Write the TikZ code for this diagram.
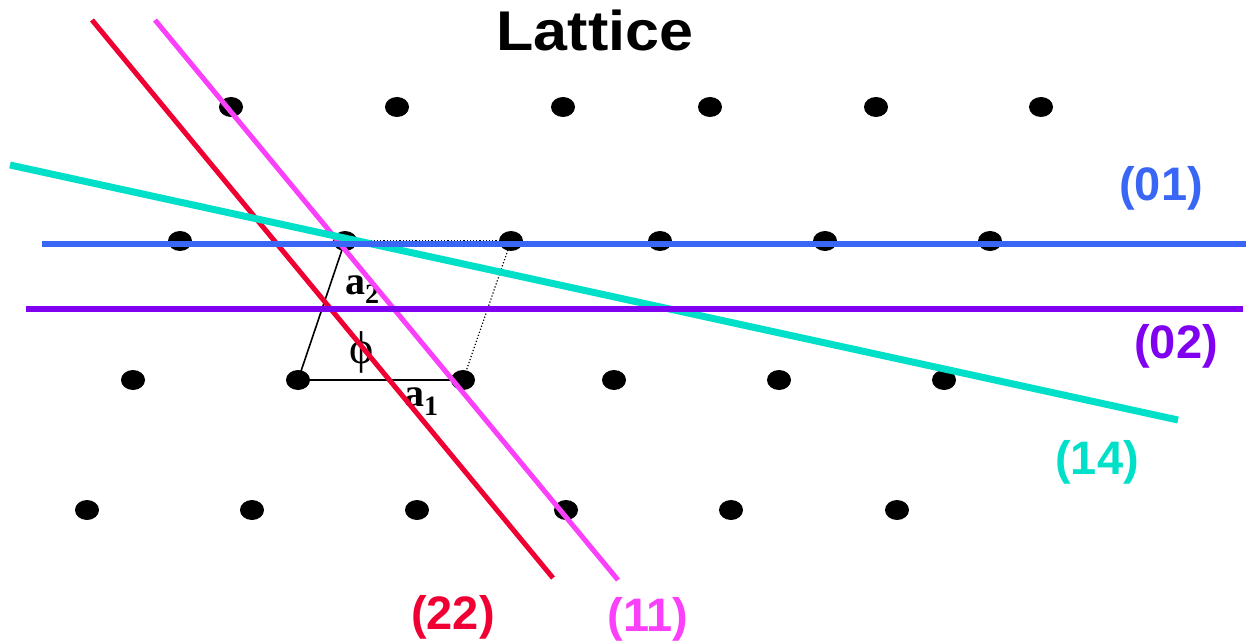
\documentclass[tikz,border=0pt]{standalone}
\usepackage{graphicx}
\usepackage{fontspec}
\setmainfont{Liberation Sans}
\newfontfamily\serifbf{Liberation Serif}
\usetikzlibrary{shapes.geometric,arrows.meta}
\definecolor{cred}{RGB}{240,0,50}
\definecolor{cmag}{RGB}{250,64,250}
\definecolor{ccyan}{RGB}{0,224,200}
\definecolor{cblue}{RGB}{58,102,245}
\definecolor{cpurp}{RGB}{128,0,240}
\tikzset{
  dot/.style={ellipse,fill=black,minimum width=24pt,minimum height=20pt,inner sep=0pt},
  plane/.style={line width=#1},
  lbl/.style={font=\fontsize{47}{47}\selectfont\bfseries,inner sep=0pt},
  vec/.style={line width=1.6pt,-{Stealth[length=9pt,width=6pt]}},
  dotline/.style={line width=1.2pt,dotted},
  vlbl/.style={font=\serifbf\fontsize{40}{40}\selectfont\bfseries,inner sep=0pt}
}
\newcommand{\vsub}[1]{\raisebox{-9pt}{\fontsize{28}{28}\selectfont #1}}
\begin{document}
\begin{tikzpicture}[x=1pt,y=-1pt]
\useasboundingbox (0,0) rectangle (1246,644);
% title
\node[font=\fontsize{56}{56}\selectfont\bfseries,inner sep=0pt] (title) at (595,30) {\scalebox{1.09}[1]{Lattice}};
% dots
\foreach \x [count=\i] in {231,397,563,710,876,1041} \node[dot] (r1d\i) at (\x,107) {};
\foreach \x [count=\i] in {180,345,511,660,825,990} \node[dot] (r2d\i) at (\x,241) {};
\foreach \x [count=\i] in {133,298,463,614,779,944} \node[dot] (r3d\i) at (\x,380) {};
\foreach \x [count=\i] in {87,252,417,566,731,897} \node[dot] (r4d\i) at (\x,510) {};
% lattice vectors
\draw[vec] (r3d2.center) -- (r3d3.center);
\draw[vec] (r3d2.center) -- (r2d2.center);
\draw[dotline] (r2d2.center) -- (r2d3.center);
\draw[dotline] (r2d3.center) -- (r3d3.center);
\node[vlbl] (a2) at (362,290) {a\vsub{2}};
\node[vlbl] (a1) at (421,402) {a\vsub{1}};
\node[inner sep=0pt,font=\serifbf\fontsize{46}{46}\selectfont] (phi) at (362,352) {ϕ};
% planes
\coordinate (r22a) at (92,20);  \coordinate (r22b) at (553,578);
\coordinate (m11a) at (155,20); \coordinate (m11b) at (618,580);
\coordinate (c14a) at (10,165); \coordinate (c14b) at (1178,420);
\coordinate (b01a) at (42,244); \coordinate (b01b) at (1246,244);
\coordinate (p02a) at (26,309); \coordinate (p02b) at (1243,309);
\draw[plane=5pt,cred] (r22a) -- (r22b);
\draw[plane=5pt,cmag] (m11a) -- (m11b);
\draw[plane=7pt,ccyan] (c14a) -- (c14b);
\draw[plane=6pt,cblue] (b01a) -- (b01b);
\draw[plane=6pt,cpurp] (p02a) -- (p02b);
% labels
\node[lbl,cblue] (l01) at (1161,188) {(01)};
\node[lbl,cpurp] (l02) at (1176,346) {(02)};
\node[lbl,ccyan] (l14) at (1097,462) {(14)};
\node[lbl,cred] (l22) at (453,617) {(22)};
\node[lbl,cmag] (l11) at (648,619) {(11)};
\end{tikzpicture}
\end{document}
